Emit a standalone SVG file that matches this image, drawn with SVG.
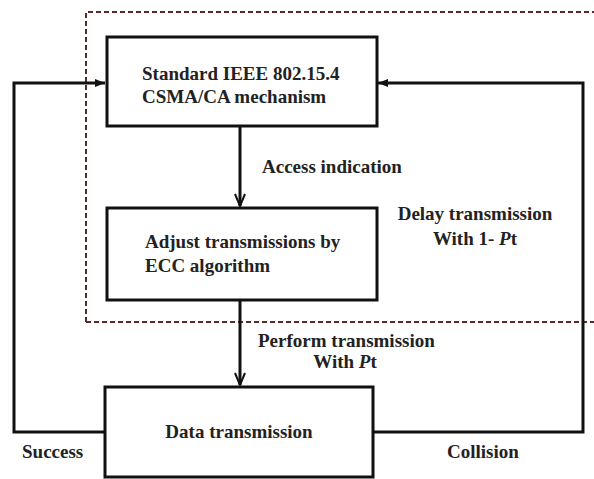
<svg xmlns="http://www.w3.org/2000/svg" width="594" height="479" viewBox="0 0 594 479">
<style>
.box{fill:#fff;stroke:#111;stroke-width:3}
.ln{fill:none;stroke:#111;stroke-width:3}
text{font-family:"Liberation Serif",serif;font-weight:bold;font-size:19px;fill:#222}
.m{text-anchor:middle}
</style>
<defs>
<marker id="ah" viewBox="0 0 14 12" refX="13" refY="6" markerWidth="14" markerHeight="12" markerUnits="userSpaceOnUse" orient="auto">
<path d="M1,1 L13,6 L1,11" fill="none" stroke="#111" stroke-width="2"/>
</marker>
<marker id="af" viewBox="0 0 10 10" refX="10" refY="5" markerWidth="10" markerHeight="10" markerUnits="userSpaceOnUse" orient="auto">
<path d="M0,1 L10,5 L0,9 Z" fill="#111"/>
</marker>
</defs>
<rect x="0" y="0" width="594" height="479" fill="#fff"/>
<path d="M86,322 L86,12 L594,12 M86,322 L594,322" fill="none" stroke="#5a2a2a" stroke-width="2" stroke-dasharray="5,3"/>
<g id="connectors">
<line class="ln" x1="240" y1="127" x2="240" y2="206" marker-end="url(#ah)"/>
<line class="ln" x1="240" y1="301" x2="240" y2="385" marker-end="url(#ah)"/>
<polyline class="ln" points="104,432 14,432 14,83 105,83" marker-end="url(#af)"/>
<polyline class="ln" points="374,432 583,432 583,83 378,83" marker-end="url(#af)"/>
<text x="262" y="173">Access indication</text>
<text x="475" y="220" class="m">Delay transmission</text>
<text x="475" y="245" class="m">With 1- <tspan font-style="italic">P</tspan>t</text>
<text x="258" y="347">Perform transmission</text>
<text x="345" y="368" class="m">With <tspan font-style="italic">P</tspan>t</text>
<text x="22" y="458">Success</text>
<text x="447" y="458">Collision</text>
</g>
<g id="csma">
<rect class="box" x="107" y="37" width="270" height="89"/>
<text x="142" y="80">Standard IEEE 802.15.4</text>
<text x="142" y="103">CSMA/CA mechanism</text>
</g>
<g id="ecc">
<rect class="box" x="107" y="208" width="270" height="92"/>
<text x="145" y="248">Adjust transmissions by</text>
<text x="145" y="272">ECC algorithm</text>
</g>
<g id="data">
<rect class="box" x="105" y="387" width="268" height="90"/>
<text x="239" y="438" class="m">Data transmission</text>
</g>
</svg>
